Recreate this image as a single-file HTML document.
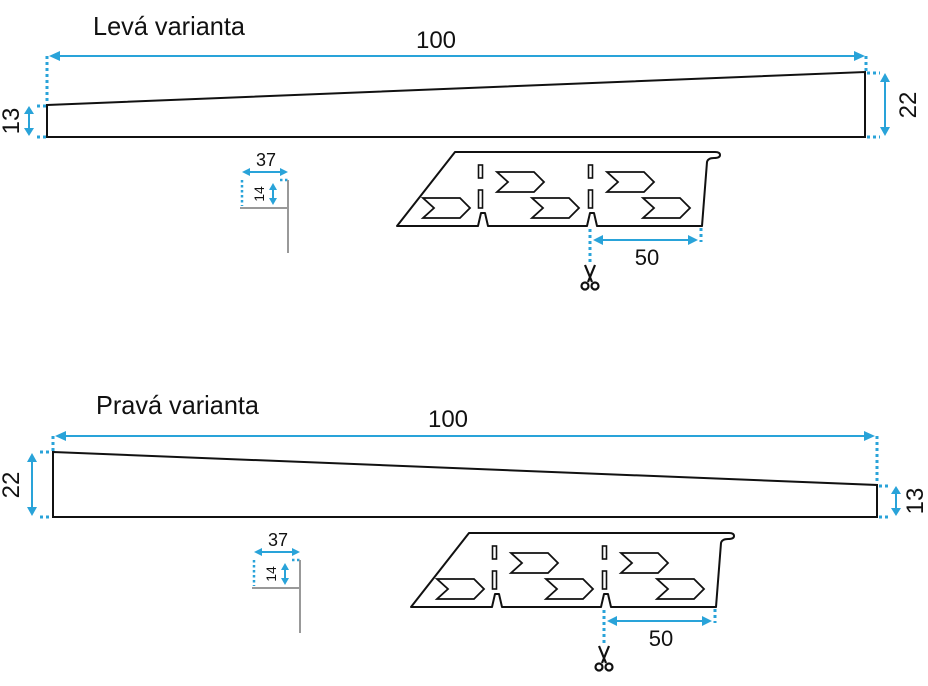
<!DOCTYPE html>
<html><head><meta charset="utf-8"><style>
html,body{margin:0;padding:0;background:#fff;}
svg{display:block;}
text{font-family:"Liberation Sans",sans-serif;fill:#111;}
</style></head><body>
<svg width="928" height="686" viewBox="0 0 928 686" xmlns="http://www.w3.org/2000/svg">
<defs>
<g id="strip">
  <path d="M455,152 L715,152 Q720,152 720,155 Q720,158 714,158 Q708,158 707,162 L702,226 L597,226 L594,213 L590,213 L587,226 L488,226 L485,213 L481,213 L478,226 L397,226 Z" fill="none" stroke="#111" stroke-width="2" stroke-linejoin="round"/>
  <rect x="478.5" y="165" width="4" height="13" fill="none" stroke="#111" stroke-width="1.6"/>
  <rect x="478.5" y="190" width="4" height="18" fill="none" stroke="#111" stroke-width="1.6"/>
  <rect x="588.5" y="165" width="4" height="13" fill="none" stroke="#111" stroke-width="1.6"/>
  <rect x="588.5" y="190" width="4" height="18" fill="none" stroke="#111" stroke-width="1.6"/>
  <g fill="none" stroke="#111" stroke-width="1.8" stroke-linejoin="miter">
    <path d="M423,198 L460,198 L470,208 L460,218 L423,218 L434,208 Z"/>
    <path d="M497,172 L534,172 L544,182 L534,192 L497,192 L508,182 Z"/>
    <path d="M532,198 L569,198 L579,208 L569,218 L532,218 L543,208 Z"/>
    <path d="M607,172 L644,172 L654,182 L644,192 L607,192 L618,182 Z"/>
    <path d="M643,198 L680,198 L690,208 L680,218 L643,218 L654,208 Z"/>
  </g>
  <line x1="590" y1="229" x2="590" y2="262" stroke="#29a3d9" stroke-width="3" stroke-dasharray="3,3"/>
  <line x1="701" y1="228" x2="701" y2="242" stroke="#29a3d9" stroke-width="3" stroke-dasharray="3,3"/>
  <line x1="598" y1="240" x2="692" y2="240" stroke="#29a3d9" stroke-width="2"/>
  <path d="M593,240 L603,235 L603,245 Z M698,240 L688,235 L688,245 Z" fill="#29a3d9"/>
  <text x="647" y="265" font-size="22" text-anchor="middle">50</text>
  <g fill="none" stroke="#111" stroke-width="2.2">
    <path d="M585,265 L592,282 M595,265 L588,282"/>
    <circle cx="585" cy="286" r="3.5"/>
    <circle cx="595" cy="286" r="3.5"/>
  </g>
</g>
<g id="prof">
  <line x1="246" y1="172" x2="284" y2="172" stroke="#29a3d9" stroke-width="2"/>
  <path d="M242,172 L250,168 L250,176 Z M288,172 L280,168 L280,176 Z" fill="#29a3d9"/>
  <text x="266" y="166" font-size="18" text-anchor="middle">37</text>
  <line x1="242" y1="180" x2="242" y2="206" stroke="#29a3d9" stroke-width="2.5" stroke-dasharray="2.5,2.5"/>
  <line x1="280" y1="180" x2="290" y2="180" stroke="#29a3d9" stroke-width="2.5" stroke-dasharray="2.5,2.5"/>
  <line x1="273" y1="188" x2="273" y2="200" stroke="#29a3d9" stroke-width="2"/>
  <path d="M273,183 L269,190 L277,190 Z M273,205 L269,198 L277,198 Z" fill="#29a3d9"/>
  <text transform="translate(264,194) rotate(-90)" font-size="14" text-anchor="middle">14</text>
  <path d="M240,208 L288,208 M288,180 L288,253" fill="none" stroke="#999" stroke-width="2"/>
</g>
</defs>

<!-- TOP -->
<text x="93" y="35" font-size="26" textLength="152" lengthAdjust="spacingAndGlyphs">Levá varianta</text>
<text x="436" y="48" font-size="24" text-anchor="middle">100</text>
<line x1="56" y1="56" x2="858" y2="56" stroke="#29a3d9" stroke-width="2"/>
<path d="M49,56 L60,51 L60,61 Z M865,56 L854,51 L854,61 Z" fill="#29a3d9"/>
<line x1="47" y1="56" x2="47" y2="104" stroke="#29a3d9" stroke-width="3" stroke-dasharray="3,3"/>
<line x1="866" y1="56" x2="866" y2="71" stroke="#29a3d9" stroke-width="3" stroke-dasharray="3,3"/>
<path d="M47,105 L865,72 L865,137 L47,137 Z" fill="none" stroke="#111" stroke-width="2"/>
<line x1="37" y1="106" x2="46" y2="106" stroke="#29a3d9" stroke-width="3" stroke-dasharray="3,3"/>
<line x1="37" y1="137" x2="46" y2="137" stroke="#29a3d9" stroke-width="3" stroke-dasharray="3,3"/>
<line x1="29" y1="112" x2="29" y2="130" stroke="#29a3d9" stroke-width="2"/>
<path d="M29,106 L24,114 L34,114 Z M29,136 L24,128 L34,128 Z" fill="#29a3d9"/>
<text transform="translate(19,121) rotate(-90)" font-size="24" text-anchor="middle">13</text>
<line x1="867" y1="73" x2="880" y2="73" stroke="#29a3d9" stroke-width="3" stroke-dasharray="3,3"/>
<line x1="867" y1="137" x2="880" y2="137" stroke="#29a3d9" stroke-width="3" stroke-dasharray="3,3"/>
<line x1="885" y1="80" x2="885" y2="130" stroke="#29a3d9" stroke-width="2"/>
<path d="M885,73 L880,82 L890,82 Z M885,136 L880,127 L890,127 Z" fill="#29a3d9"/>
<text transform="translate(916,105) rotate(-90)" font-size="24" text-anchor="middle">22</text>
<use href="#prof"/>
<use href="#strip"/>

<!-- BOTTOM -->
<text x="96" y="414" font-size="26" textLength="163" lengthAdjust="spacingAndGlyphs">Pravá varianta</text>
<text x="448" y="427" font-size="24" text-anchor="middle">100</text>
<line x1="62" y1="436" x2="868" y2="436" stroke="#29a3d9" stroke-width="2"/>
<path d="M55,436 L66,431 L66,441 Z M875,436 L864,431 L864,441 Z" fill="#29a3d9"/>
<line x1="53" y1="436" x2="53" y2="451" stroke="#29a3d9" stroke-width="3" stroke-dasharray="3,3"/>
<line x1="877" y1="436" x2="877" y2="484" stroke="#29a3d9" stroke-width="3" stroke-dasharray="3,3"/>
<path d="M53,452 L877,485 L877,517 L53,517 Z" fill="none" stroke="#111" stroke-width="2"/>
<line x1="40" y1="452" x2="51" y2="452" stroke="#29a3d9" stroke-width="3" stroke-dasharray="3,3"/>
<line x1="40" y1="517" x2="51" y2="517" stroke="#29a3d9" stroke-width="3" stroke-dasharray="3,3"/>
<line x1="32" y1="460" x2="32" y2="510" stroke="#29a3d9" stroke-width="2"/>
<path d="M32,453 L27,462 L37,462 Z M32,516 L27,507 L37,507 Z" fill="#29a3d9"/>
<text transform="translate(19,485) rotate(-90)" font-size="24" text-anchor="middle">22</text>
<line x1="879" y1="486" x2="890" y2="486" stroke="#29a3d9" stroke-width="3" stroke-dasharray="3,3"/>
<line x1="879" y1="517" x2="890" y2="517" stroke="#29a3d9" stroke-width="3" stroke-dasharray="3,3"/>
<line x1="896" y1="492" x2="896" y2="510" stroke="#29a3d9" stroke-width="2"/>
<path d="M896,486 L891,494 L901,494 Z M896,516 L891,508 L901,508 Z" fill="#29a3d9"/>
<text transform="translate(923,501) rotate(-90)" font-size="24" text-anchor="middle">13</text>
<use href="#prof" transform="translate(12,380)"/>
<use href="#strip" transform="translate(14,381)"/>
</svg>
</body></html>
